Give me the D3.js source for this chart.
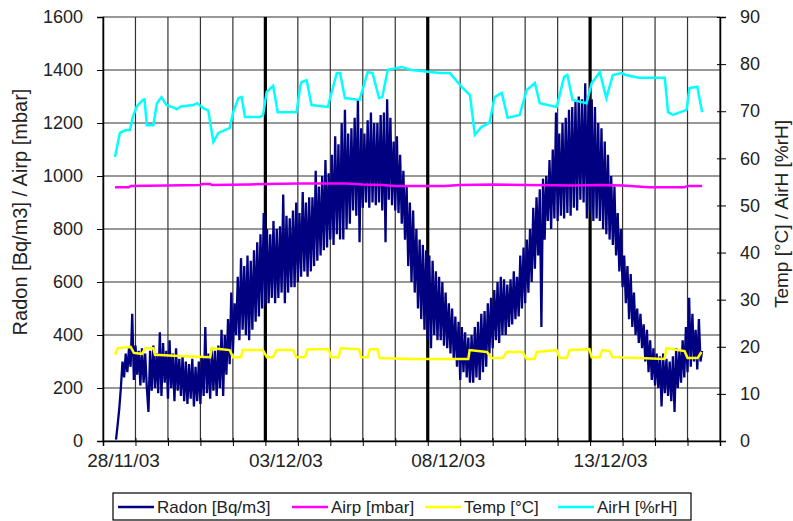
<!DOCTYPE html>
<html lang="en">
<head>
<meta charset="utf-8">
<title>Radon / Airp / Temp / AirH</title>
<script src="https://d3js.org/d3.v7.min.js"></script>
<style>
  body { margin: 0; background: #fff; }
  svg text { font-family: "Liberation Sans", Arial, sans-serif; fill: #222; }
</style>
</head>
<body>
<script>
// ---- data (t = days after 28/11/03 00:00) ----
const radonStart = 0.4;   // first sample, days
const radonStep = 0.05;   // sample spacing, days (one row = one day)
const radon = [
  5, 60, 120, 200, 300, 240, 330, 260, 350, 280, 480, 230, 360, 250, 340, 210, 350, 220, 330, 200,
  110, 340, 190, 360, 200, 330, 180, 410, 170, 370, 220, 340, 160, 380, 200, 330, 150, 350, 190, 310,
  170, 320, 150, 300, 140, 290, 160, 310, 130, 280, 150, 300, 140, 320, 170, 430, 180, 330, 160, 350,
  190, 340, 170, 360, 200, 420, 170, 400, 250, 460, 290, 560, 330, 520, 400, 620, 380, 690, 420, 660,
  400, 700, 380, 680, 420, 720, 450, 750, 470, 780, 500, 860, 510, 800, 520, 780, 540, 830, 520, 800,
  540, 810, 560, 930, 520, 850, 560, 840, 580, 870, 580, 900, 600, 860, 620, 940, 640, 900, 620, 920,
  640, 920, 660, 1020, 680, 960, 700, 1000, 720, 1060, 730, 1010, 760, 1080, 740, 1150, 780, 1120, 760, 1200,
  760, 1250, 800, 1160, 820, 1180, 870, 1220, 850, 1290, 750, 1180, 880, 1160, 900, 1210, 880, 1240, 900, 1200,
  890, 1200, 900, 1230, 870, 1240, 750, 1290, 910, 1220, 890, 1130, 870, 1150, 860, 1080, 820, 1020, 760, 960,
  660, 900, 600, 870, 560, 800, 500, 760, 460, 740, 420, 720, 380, 700, 350, 680, 400, 640, 380, 620,
  380, 600, 360, 560, 350, 520, 330, 500, 310, 470, 280, 450, 230, 430, 260, 410, 240, 390, 220, 400,
  220, 430, 240, 450, 230, 480, 260, 490, 280, 520, 330, 540, 350, 570, 380, 600, 370, 620, 400, 610,
  400, 590, 430, 610, 440, 640, 460, 620, 470, 700, 500, 730, 520, 760, 560, 800, 600, 880, 650, 920,
  700, 950, 430, 990, 760, 1000, 830, 1060, 800, 1100, 840, 1240, 830, 1160, 850, 1200, 840, 1220, 860, 1250,
  850, 1260, 880, 1280, 870, 1300, 910, 1290, 900, 1350, 840, 1300, 860, 1290, 830, 1260, 840, 1200, 830, 1180,
  800, 1130, 780, 1080, 760, 1000, 740, 960, 700, 860, 640, 800, 580, 700, 520, 660, 460, 630, 430, 560,
  400, 500, 370, 480, 350, 440, 300, 420, 260, 380, 230, 350, 210, 330, 200, 320, 130, 330, 180, 310,
  170, 300, 150, 320, 110, 350, 200, 340, 220, 380, 240, 430, 260, 540, 280, 480, 300, 420, 270, 460,
  300, 340
];

const airp = [
  [0.37, 958], [0.8, 958], [0.85, 962], [3.0, 966], [3.05, 970], [3.3, 970],
  [3.35, 966], [4.5, 968], [6.0, 972], [7.5, 972], [8.0, 968], [8.6, 966],
  [9.0, 962], [10.5, 962], [11.0, 966], [12.0, 968], [13.0, 966], [14.5, 964],
  [15.3, 966], [16.0, 964], [16.8, 958], [17.9, 958], [18.0, 962], [18.45, 962]
];

const temp = [
  [0.37, 18.3], [0.45, 19.7], [0.85, 20.0], [0.95, 18.7], [1.2, 18.5], [1.3, 19.7],
  [1.55, 19.7], [1.6, 18.3], [2.5, 18.0], [3.3, 17.8], [3.35, 19.7], [3.9, 19.3],
  [4.0, 17.8], [4.25, 17.8], [4.3, 19.3], [4.92, 19.3], [5.05, 17.8], [5.23, 17.8],
  [5.35, 19.3], [5.85, 19.3], [5.95, 17.8], [6.22, 17.8], [6.3, 19.5], [6.95, 19.5],
  [7.02, 17.8], [7.25, 17.8], [7.32, 19.7], [7.88, 19.5], [7.95, 17.8], [8.15, 17.8],
  [8.22, 19.5], [8.45, 19.5], [8.52, 17.6], [9.5, 17.4], [11.25, 17.4], [11.29, 19.3],
  [11.82, 18.9], [11.97, 17.6], [12.31, 17.6], [12.43, 18.9], [12.92, 18.9], [13.05, 17.4],
  [13.29, 17.4], [13.35, 18.9], [13.97, 19.3], [14.06, 17.6], [14.28, 17.6], [14.37, 19.3],
  [14.98, 19.5], [15.05, 17.8], [15.29, 17.8], [15.38, 19.3], [15.6, 19.1], [15.69, 17.8],
  [16.5, 17.6], [17.29, 17.4], [17.35, 19.7], [17.91, 19.1], [18.0, 17.6], [18.31, 17.6],
  [18.43, 18.9]
];

const airh = [
  [0.37, 60.3], [0.45, 63], [0.52, 65.4], [0.7, 66], [0.83, 66], [0.92, 68.8],
  [1.04, 71], [1.23, 72.4], [1.28, 72.5], [1.35, 67], [1.55, 67], [1.66, 71.7],
  [1.8, 73], [1.96, 71.3], [2.2, 70.7], [2.27, 70.4], [2.4, 71], [2.78, 71.3],
  [2.9, 71.7], [3.1, 70.6], [3.24, 70.2], [3.4, 63.5], [3.55, 65.4], [3.9, 66.4],
  [4.0, 69.6], [4.17, 72.8], [4.27, 73], [4.37, 68.8], [4.83, 68.8], [4.93, 69.2],
  [5.04, 74.1], [5.24, 75.4], [5.38, 69.8], [5.96, 69.8], [6.08, 75.5], [6.12, 76.2],
  [6.27, 76.6], [6.42, 71.3], [6.92, 70.9], [7.2, 78.1], [7.3, 78.1], [7.45, 72.8],
  [7.9, 72.4], [8.15, 78.3], [8.3, 78.1], [8.5, 72.8], [8.6, 73], [8.77, 78.8],
  [9.2, 79.4], [9.45, 78.8], [10.37, 78.1], [10.68, 78.1], [11.08, 74.9], [11.3, 73.4],
  [11.45, 65], [11.66, 66.7], [11.9, 67.5], [12.06, 73], [12.28, 73.9], [12.46, 68.6],
  [12.83, 69.2], [13.05, 74.5], [13.3, 76], [13.45, 71.7], [13.97, 70.9], [14.2, 77.3],
  [14.3, 77.7], [14.46, 72.4], [14.89, 71.7], [15.05, 76], [15.3, 78.3], [15.5, 72.8],
  [15.7, 77.7], [15.97, 78.1], [16.1, 77.7], [16.5, 77.1], [17.0, 77.1], [17.3, 77.1],
  [17.4, 69.8], [17.55, 69.2], [17.97, 70.3], [18.06, 74.9], [18.3, 75.2], [18.45, 69.8]
];

const leftTicks = [0, 200, 400, 600, 800, 1000, 1200, 1400, 1600];
const rightTicks = [0, 10, 20, 30, 40, 50, 60, 70, 80, 90];
const majorDays = ["2003-12-03", "2003-12-08", "2003-12-13"];

const series = [
  { name: "Radon [Bq/m3]", color: "#000080" },
  { name: "Airp [mbar]", color: "#ff00ff" },
  { name: "Temp [\u00b0C]", color: "#ffff00" },
  { name: "AirH [%rH]", color: "#00ffff" }
];

// ---- layout ----
const width = 793, height = 521;
const plotL = 103, plotR = 720, plotT = 17, plotB = 441;

const t0 = new Date(2003, 10, 28);
const t1 = new Date(2003, 11, 17);
const toDate = d => new Date(t0.getTime() + d * 86400000);

const x = d3.scaleTime().domain([t0, t1]).range([plotL, plotR]);
const yL = d3.scaleLinear().domain([0, 1600]).range([plotB, plotT]);
const yR = d3.scaleLinear().domain([0, 90]).range([plotB, plotT]);

const svg = d3.select("body").append("svg")
  .attr("width", width)
  .attr("height", height);

// gridlines
const days = d3.timeDay.range(t0, d3.timeDay.offset(t1, 1));
const majorSet = new Set(majorDays.map(s => d3.timeParse("%Y-%m-%d")(s).getTime()));

svg.append("g").selectAll("line")
  .data(leftTicks)
  .join("line")
  .attr("x1", plotL).attr("x2", plotR)
  .attr("y1", d => yL(d)).attr("y2", d => yL(d))
  .attr("stroke", "#333").attr("stroke-width", 1.2);

svg.append("g").selectAll("line")
  .data(days)
  .join("line")
  .attr("x1", d => x(d)).attr("x2", d => x(d))
  .attr("y1", plotT).attr("y2", plotB)
  .attr("stroke", d => majorSet.has(d.getTime()) ? "#000" : "#333")
  .attr("stroke-width", d => majorSet.has(d.getTime()) ? 3.2 : 1.2);

// series
const radonPts = radon.map((v, i) => [toDate(radonStart + i * radonStep), v]);

svg.append("path")
  .datum(radonPts)
  .attr("fill", "none")
  .attr("stroke", series[0].color)
  .attr("stroke-width", 2.3)
  .attr("d", d3.line().x(d => x(d[0])).y(d => yL(d[1])));

svg.append("path")
  .datum(airp)
  .attr("fill", "none")
  .attr("stroke", series[1].color)
  .attr("stroke-width", 2.5)
  .attr("d", d3.line().x(d => x(toDate(d[0]))).y(d => yL(d[1])));

svg.append("path")
  .datum(temp)
  .attr("fill", "none")
  .attr("stroke", series[2].color)
  .attr("stroke-width", 2.5)
  .attr("d", d3.line().x(d => x(toDate(d[0]))).y(d => yR(d[1])));

svg.append("path")
  .datum(airh)
  .attr("fill", "none")
  .attr("stroke", series[3].color)
  .attr("stroke-width", 2.5)
  .attr("d", d3.line().x(d => x(toDate(d[0]))).y(d => yR(d[1])));

// axes
const fmt = d3.timeFormat("%d/%m/%y");

const gL = svg.append("g")
  .attr("transform", `translate(${plotL},0)`)
  .call(d3.axisLeft(yL).tickValues(leftTicks).tickFormat(d3.format("d")).tickSize(6).tickPadding(14));
gL.select(".domain").attr("stroke", "#000").attr("stroke-width", 1.5);
gL.selectAll("text").attr("font-size", "18px");

const gR = svg.append("g")
  .attr("transform", `translate(${plotR},0)`)
  .call(d3.axisRight(yR).tickValues(rightTicks).tickSize(6).tickPadding(14));
gR.select(".domain").attr("stroke", "#000").attr("stroke-width", 1.5);
gR.selectAll(".tick line").attr("x1", -3);
gR.selectAll("text").attr("font-size", "18px");

const gB = svg.append("g")
  .attr("transform", `translate(0,${plotB})`)
  .call(d3.axisBottom(x).tickValues(days).tickSize(5)
    .tickFormat((d, i) => i % 5 === 0 && i < 19 ? fmt(d) : ""));
gB.select(".domain").attr("stroke", "#000").attr("stroke-width", 1.5);
gB.selectAll(".tick line").attr("y1", -3);
gB.selectAll("text").attr("font-size", "19px").attr("dx", 20).attr("dy", 18);

// axis titles
svg.append("text")
  .attr("transform", "translate(27,212) rotate(-90)")
  .attr("text-anchor", "middle")
  .attr("font-size", "20px")
  .text("Radon [Bq/m3] / Airp [mbar]");

svg.append("text")
  .attr("transform", "translate(788,214) rotate(-90)")
  .attr("text-anchor", "middle")
  .attr("font-size", "19px")
  .text("Temp [\u00b0C] / AirH [%rH]");

// legend
const lg = svg.append("g");
lg.append("rect")
  .attr("x", 113).attr("y", 493).attr("width", 578).attr("height", 27)
  .attr("fill", "#fff").attr("stroke", "#000").attr("stroke-width", 1.2);

const legendX = [118, 292, 425, 558];
const item = lg.selectAll("g.item")
  .data(series)
  .join("g")
  .attr("class", "item")
  .attr("transform", (d, i) => `translate(${legendX[i]},507)`);
item.append("line")
  .attr("x1", 0).attr("x2", 36)
  .attr("stroke", d => d.color).attr("stroke-width", 2.5);
item.append("text")
  .attr("x", 39).attr("y", 6)
  .attr("font-size", "17px")
  .text(d => d.name);
</script>
</body>
</html>
